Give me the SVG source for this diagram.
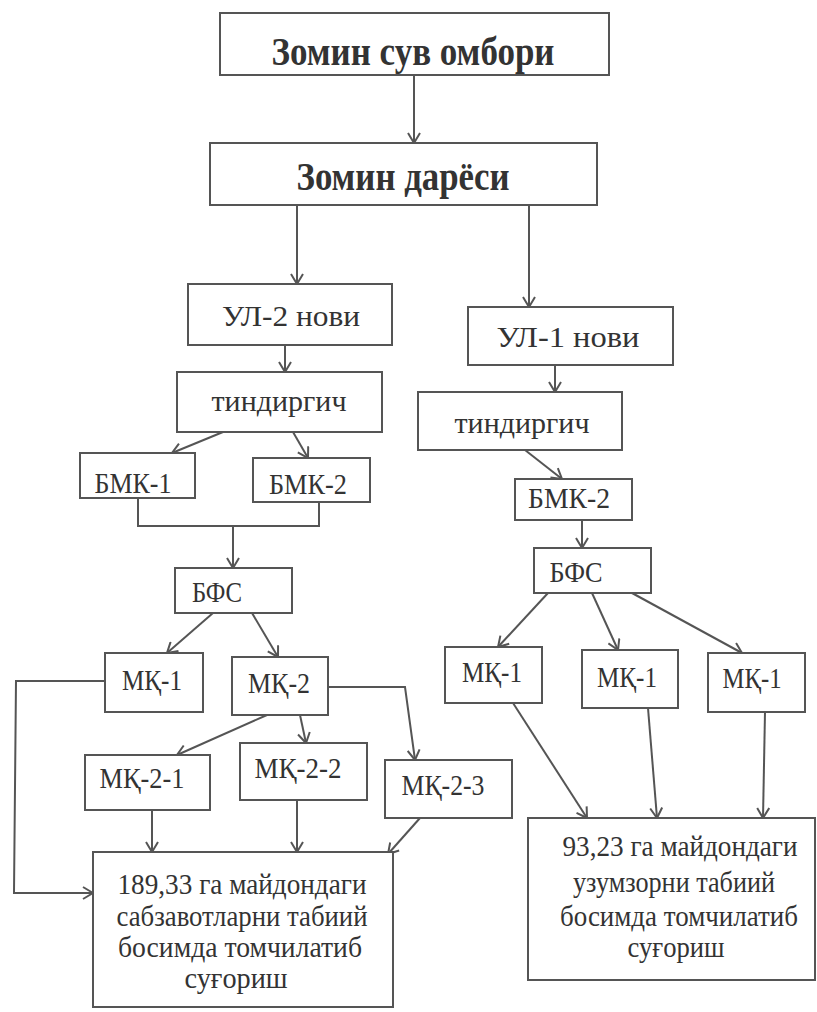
<svg xmlns="http://www.w3.org/2000/svg" width="817" height="1012" viewBox="0 0 817 1012">
<style>
rect{fill:#fff;stroke:#555;stroke-width:2}
text{font-family:"Liberation Serif","Times New Roman",serif;fill:#333;text-anchor:middle;font-size:29px}
.b{font-weight:bold;font-size:39px}
.c line,.c polyline{stroke:#555;stroke-width:2;fill:none}
</style>
<defs>
<marker id="a" viewBox="0 0 12 14" refX="11" refY="7" markerWidth="12" markerHeight="14" markerUnits="userSpaceOnUse" orient="auto">
<path d="M1,1 L11,7 L1,13" fill="none" stroke="#555" stroke-width="2"/>
</marker>
</defs>
<rect width="817" height="1012" style="fill:#fff;stroke:none"/>
<g class="c">
<line x1="414" y1="75" x2="414" y2="143" marker-end="url(#a)"/>
<line x1="297" y1="205" x2="297" y2="284" marker-end="url(#a)"/>
<line x1="529" y1="205" x2="529" y2="307" marker-end="url(#a)"/>
<line x1="285" y1="345" x2="285" y2="372" marker-end="url(#a)"/>
<line x1="223" y1="432" x2="172" y2="453" marker-end="url(#a)"/>
<line x1="293" y1="432" x2="308" y2="458" marker-end="url(#a)"/>
<polyline points="138,498 138,526 319,526 319,502"/>
<line x1="233" y1="526" x2="233" y2="568" marker-end="url(#a)"/>
<line x1="213" y1="613" x2="167" y2="653" marker-end="url(#a)"/>
<line x1="252" y1="613" x2="278" y2="657" marker-end="url(#a)"/>
<polyline points="105,681 16,681 14,893 93,893" marker-end="url(#a)"/>
<polyline points="328,687 405,687 415,760" marker-end="url(#a)"/>
<line x1="267" y1="715" x2="177" y2="755" marker-end="url(#a)"/>
<line x1="300" y1="715" x2="306" y2="743" marker-end="url(#a)"/>
<line x1="152" y1="810" x2="152" y2="852" marker-end="url(#a)"/>
<line x1="297" y1="800" x2="297" y2="852" marker-end="url(#a)"/>
<line x1="420" y1="818" x2="388" y2="854" marker-end="url(#a)"/>
<line x1="555" y1="365" x2="555" y2="392" marker-end="url(#a)"/>
<line x1="525" y1="450" x2="562" y2="479" marker-end="url(#a)"/>
<line x1="582" y1="520" x2="582" y2="548" marker-end="url(#a)"/>
<line x1="548" y1="593" x2="498" y2="647" marker-end="url(#a)"/>
<line x1="592" y1="593" x2="618" y2="650" marker-end="url(#a)"/>
<line x1="632" y1="593" x2="742" y2="653" marker-end="url(#a)"/>
<line x1="513" y1="703" x2="587" y2="818" marker-end="url(#a)"/>
<line x1="648" y1="708" x2="657" y2="818" marker-end="url(#a)"/>
<line x1="765" y1="712" x2="763" y2="818" marker-end="url(#a)"/>
</g>
<g id="n1"><rect x="220" y="13" width="389" height="62"/><text class="b" x="413" y="65" textLength="283" lengthAdjust="spacingAndGlyphs">Зомин сув омбори</text></g>
<g id="n2"><rect x="210" y="143" width="387" height="62"/><text class="b" x="403" y="190" textLength="213" lengthAdjust="spacingAndGlyphs">Зомин дарёси</text></g>
<g id="ul2"><rect x="188" y="284" width="204" height="61"/><text x="291" y="326" textLength="138" lengthAdjust="spacingAndGlyphs">УЛ-2 нови</text></g>
<g id="tindL"><rect x="177" y="372" width="205" height="60"/><text x="279" y="411" textLength="135" lengthAdjust="spacingAndGlyphs">тиндиргич</text></g>
<g id="bmk1"><rect x="80" y="453" width="115" height="45"/><text x="133" y="493" textLength="77" lengthAdjust="spacingAndGlyphs">БМК-1</text></g>
<g id="bmk2L"><rect x="253" y="458" width="117" height="44"/><text x="308" y="494" textLength="78" lengthAdjust="spacingAndGlyphs">БМК-2</text></g>
<g id="bfsL"><rect x="175" y="568" width="117" height="45"/><text x="217" y="602" textLength="50" lengthAdjust="spacingAndGlyphs">БФС</text></g>
<g id="mk1L"><rect x="105" y="653" width="98" height="59"/><text x="152" y="690" textLength="60" lengthAdjust="spacingAndGlyphs">МҚ-1</text></g>
<g id="mk2"><rect x="232" y="657" width="96" height="58"/><text x="279" y="693" textLength="62" lengthAdjust="spacingAndGlyphs">МҚ-2</text></g>
<g id="mk21"><rect x="85" y="755" width="125" height="55"/><text x="142" y="788" textLength="85" lengthAdjust="spacingAndGlyphs">МҚ-2-1</text></g>
<g id="mk22"><rect x="240" y="743" width="127" height="57"/><text x="298" y="778" textLength="87" lengthAdjust="spacingAndGlyphs">МҚ-2-2</text></g>
<g id="mk23"><rect x="385" y="760" width="127" height="58"/><text x="443" y="795" textLength="83" lengthAdjust="spacingAndGlyphs">МҚ-2-3</text></g>
<g id="bigL"><rect x="93" y="852" width="300" height="155"/>
<text x="242" y="894" textLength="249" lengthAdjust="spacingAndGlyphs">189,33 га майдондаги</text>
<text x="242" y="926" textLength="251" lengthAdjust="spacingAndGlyphs">сабзавотларни табиий</text>
<text x="240" y="957" textLength="244" lengthAdjust="spacingAndGlyphs">босимда томчилатиб</text>
<text x="236" y="988" textLength="103" lengthAdjust="spacingAndGlyphs">суғориш</text></g>
<g id="ul1"><rect x="468" y="307" width="205" height="58"/><text x="568" y="347" textLength="143" lengthAdjust="spacingAndGlyphs">УЛ-1 нови</text></g>
<g id="tindR"><rect x="418" y="392" width="204" height="58"/><text x="522" y="433" textLength="135" lengthAdjust="spacingAndGlyphs">тиндиргич</text></g>
<g id="bmk2R"><rect x="515" y="479" width="117" height="41"/><text x="569" y="508" textLength="82" lengthAdjust="spacingAndGlyphs">БМК-2</text></g>
<g id="bfsR"><rect x="534" y="548" width="117" height="45"/><text x="576" y="582" textLength="53" lengthAdjust="spacingAndGlyphs">БФС</text></g>
<g id="mk1a"><rect x="445" y="647" width="97" height="56"/><text x="492" y="682" textLength="60" lengthAdjust="spacingAndGlyphs">МҚ-1</text></g>
<g id="mk1b"><rect x="582" y="650" width="96" height="58"/><text x="627" y="687" textLength="60" lengthAdjust="spacingAndGlyphs">МҚ-1</text></g>
<g id="mk1c"><rect x="708" y="653" width="97" height="59"/><text x="752" y="688" textLength="59" lengthAdjust="spacingAndGlyphs">МҚ-1</text></g>
<g id="bigR"><rect x="528" y="818" width="287" height="162"/>
<text x="680" y="856" textLength="235" lengthAdjust="spacingAndGlyphs">93,23 га майдондаги</text>
<text x="674" y="892" textLength="202" lengthAdjust="spacingAndGlyphs">узумзорни табиий</text>
<text x="679" y="926" textLength="238" lengthAdjust="spacingAndGlyphs">босимда томчилатиб</text>
<text x="676" y="957" textLength="97" lengthAdjust="spacingAndGlyphs">суғориш</text></g>
</svg>
